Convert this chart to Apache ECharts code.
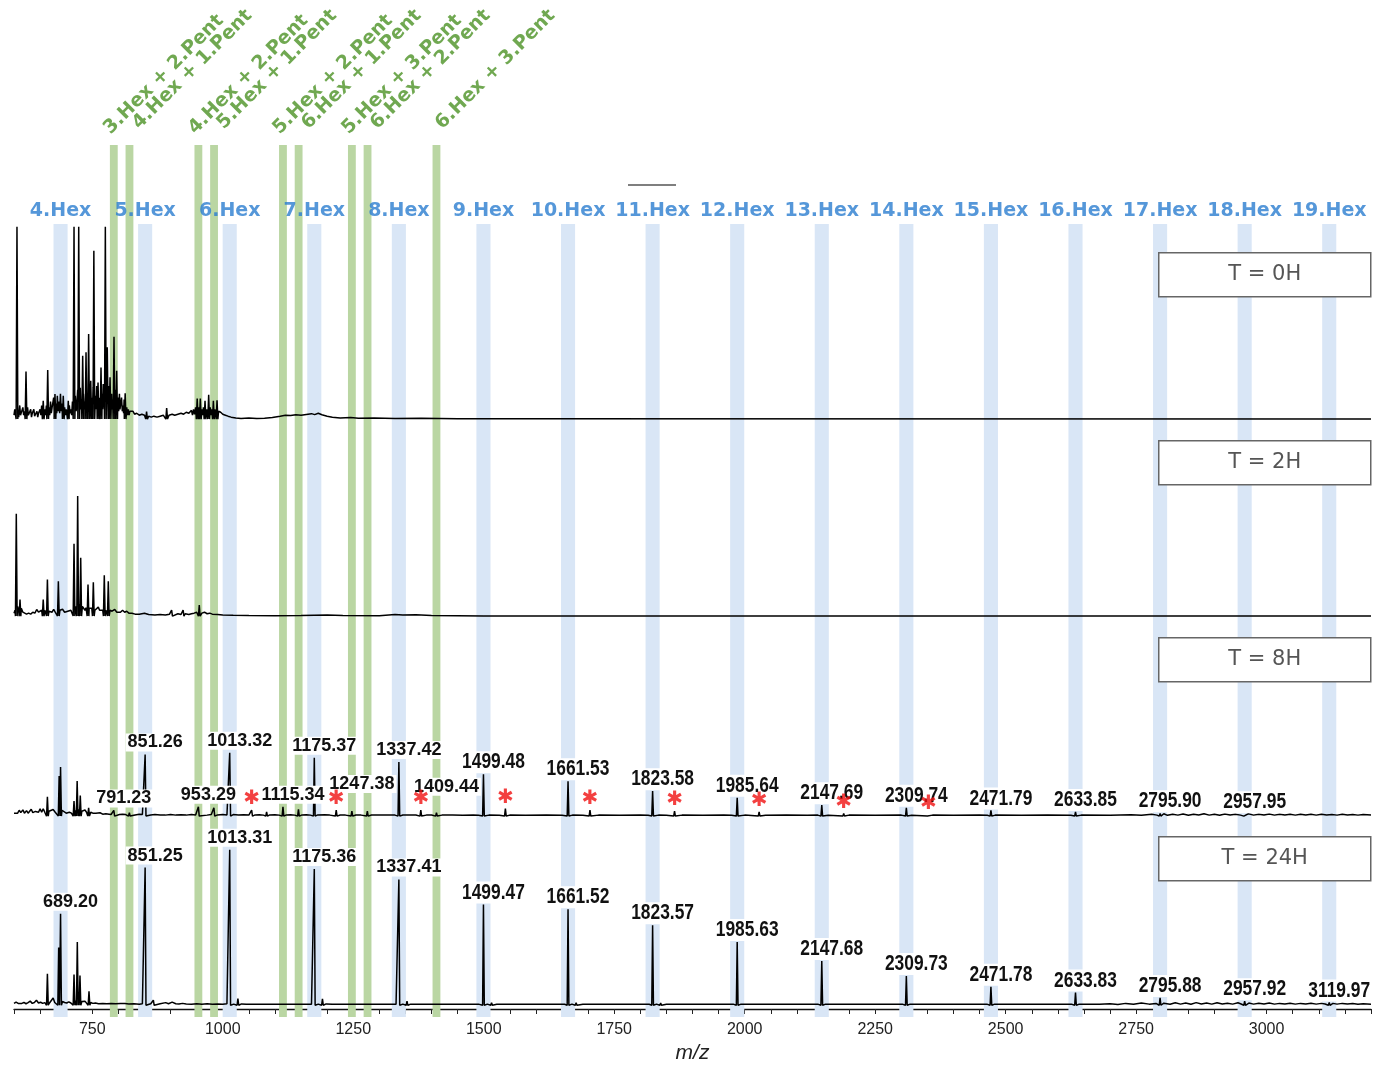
<!DOCTYPE html>
<html>
<head>
<meta charset="utf-8">
<script src="https://cdn.jsdelivr.net/npm/echarts@6/dist/echarts.min.js"></script>
<style>
  html, body { margin: 0; padding: 0; background: #fff; }
  #chart { width: 1375px; height: 1065px; }
</style>
</head>
<body>
<div id="chart"></div>
<script>
// ---------------- data ----------------
// hexose ladder (blue bands) and mixed hexose/pentose species (green bands), m/z
const hexNames = ['4.Hex', '5.Hex', '6.Hex', '7.Hex', '8.Hex', '9.Hex', '10.Hex', '11.Hex',
  '12.Hex', '13.Hex', '14.Hex', '15.Hex', '16.Hex', '17.Hex', '18.Hex', '19.Hex'];
const hexMz = [689.20, 851.25, 1013.31, 1175.36, 1337.41, 1499.47, 1661.52, 1823.57,
  1985.63, 2147.68, 2309.73, 2471.78, 2633.83, 2795.88, 2957.92, 3119.97];
const pentNames = ['3.Hex + 2.Pent', '4.Hex + 1.Pent', '4.Hex + 2.Pent', '5.Hex + 1.Pent',
  '5.Hex + 2.Pent', '6.Hex + 1.Pent', '5.Hex + 3.Pent', '6.Hex + 2.Pent', '6.Hex + 3.Pent'];
const pentMz = [791.23, 821.24, 953.29, 983.30, 1115.34, 1145.35, 1247.38, 1277.39, 1409.44];

const panelNames = ['T = 0H', 'T = 2H', 'T = 8H', 'T = 24H'];
const xTickLabels = [750, 1000, 1250, 1500, 1750, 2000, 2250, 2500, 2750, 3000];

// T = 0H : baseline trace [m/z, rel. intensity] and sharp peaks
const trace0H = [[600,2],[601.5,5],[603,2],[607.5,4],[609,1],[611,7],[612.5,2],[614,3],[617,6],[618.5,2],[620,4],
  [626,6],[627.5,2],[629,3],[632,5],[633.5,1],[635,3],[638,5],[639.5,1.5],[641,2],[644,4],[645.5,1],[647,3],
  [650,5],[651.5,2],[653,7],[659,5],[660.5,2],[662,7],[667,6],[668.5,2],[670,9],[671.5,3],[673,6],[676,11],
  [677,4],[681,8],[682,3],[683,12],[684.5,4],[686,9],[687.5,3],[689,13],[690.5,4],[692,8],[697,6],[698.5,2],
  [700,5],[701.5,2],[706,7],[707.5,3],[709,5],[710.5,2],[712,9],[713,3],[717.5,12],[719,4],[720.5,8],[722,15],
  [727,16],[728,5],[729.5,10],[733,13],[734.5,5],[736,9],[740,12],[741.5,5],[745,14],[746,6],[749,11],[750.5,5],
  [751.5,16],[756,12],[757,5],[758.5,17],[763,11],[764.5,4],[769,13],[770,5],[771,18],[772,6],[773,11],[781,17],
  [782,6],[787,13],[788,5],[789,10],[794,15],[795,6],[799,11],[800.5,4],[802,13],[803,5],[804.5,8],[806,11],
  [807.5,4],[809,7],[810,3],[811,10],[816,6],[817.5,2],[819,5],[820.5,2],[822,4],[825,3],[828,4],[831,2.5],
  [835,3],[840,2],[845,2.5],[850,2],[858,1.5],[863,1],[868,1.5],[874,1],[880,1.5],[886,2],[897,2],[903,2.5],
  [908,2],[914,2.5],[920,3],[925,2.5],[930,3.5],[935,3],[940,4.5],[942,2],[944,5],[946,2.5],[948,6],[954,6],
  [955.5,2],[960,5],[961.5,2],[963,6],[969,5],[970.5,2],[976,6],[977.5,2],[979,5],[985,5],[986.5,2],[992,4],
  [996,3.5],[1000,2.5],[1005,2],[1010,1.5],[1016,1],[1025,0.6],[1035,0.3],[1050,0.5],[1065,0.3],[1080,0.4],
  [1095,0.8],[1110,1.5],[1120,2],[1130,1.8],[1140,2.2],[1150,2],[1160,2.4],[1170,2.8],[1176,2.3],[1183,3],
  [1190,2.2],[1200,1.5],[1210,1],[1225,0.6],[1245,0.8],[1260,0.4],[1290,0.5],[1330,0.3],[1380,0.4],[1450,0.2],
  [1550,0.2],[3200,0]];
const peaks0H = [[605.7,98.6],[623,24.4],[656,9.4],[664.6,25.1],[678.5,12.8],[694.4,12],[704,9.4],[715,98.6],
  [724,98.6],[731.6,32.5],[738,34.2],[743,43.6],[747,19.7],[753,86.3],[761,18.8],[766.7,26.5],[775,98.6],
  [778.7,36.8],[784,21.4],[791.6,42.2],[796.7,24.8],[813,13.2],[854,3.9],[892.5,5.6],[951,10.6],[957,10.6],
  [966,9.4],[973,12.5],[982,9.4],[989,9.7]];

// T = 2H
const trace2H = [[600,1.5],[602,3],[607,5],[609,3],[614,4],[617,2],[620,1.5],[624,1],[628,1.5],[632,1],[636,2],
  [640,1.5],[643.5,3.4],[647,2],[650,1.5],[653,3],[659,3],[661,4],[667,2.5],[670,3],[673,2],[676,3.5],[679,2],
  [682,3],[688,3],[690,2],[693,3.5],[697,2],[700,3],[703,2.5],[706,3.5],[709,3],[712,4],[718,5],[725,6],[731,5],
  [734,4.3],[736,3],[738,4.3],[744,4],[747,3],[749,4],[755,3],[758,3.5],[761.5,4.6],[764,3],[767,2.5],[770,3],
  [776,3],[784,3],[788,2.5],[793,3.4],[797,2],[800,2.5],[804,2],[808,3],[812,2],[816,2.5],[820,1.5],[826,1.5],
  [832,1],[840,1],[850,1.5],[858,0.8],[870,0.6],[880,0.8],[890,0.6],[898,1],[906,0.8],[914,1.2],[920,0.8],
  [928,1.2],[935,0.8],[940,1.2],[945,1.5],[950,2],[960,1.5],[965,2],[970,1.2],[975,1.5],[980,1],[990,0.8],
  [1000,0.6],[1020,0.4],[1050,0.3],[1100,0.2],[1150,0.3],[1200,0.5],[1230,0.3],[1300,0.2],[1330,0.8],[1345,0.6],
  [1370,0.7],[1400,0.3],[1500,0.1],[3200,0]];
const peaks2H = [[604.4,52.5],[611.5,8.5],[656,8.5],[664,18.8],[685,17.9],[715,37.1],[722,61.5],[727.8,29.9],
  [741.8,16.2],[752,17.4],[773,20.9],[780.7,17.9],[902,3.1],[924,3.1],[955,5.6]];

// T = 8H
const trace8H = [[600,1.5],[603,2.5],[607,1.5],[610,3],[613,1.8],[617,3.2],[620,1.5],[624,2.8],[627,1.5],[630,2],
  [633,3.5],[636,1.8],[641,2.4],[644,1.5],[647,2],[650,3.8],[653,2],[656,3.8],[659,2],[667,2.5],[670,2],[675,3.4],
  [679,2],[682,3],[692,3],[695,2],[700,1.5],[706,2],[710,1.5],[718,3],[724,3.5],[730,2.5],[733,2],[736,3.1],
  [739,2],[747,2],[751,1.5],[757,1.5],[764.8,1.7],[770,1],[776,1.2],[782,1],[786,0.8],[796,1],[802,0.8],[808,1],
  [814,0.8],[826,0.8],[832,0.6],[840,1],[846,0.8],[856,1],[862,0.6],[870,0.8],[880,0.6],[890,0.5],[900,0.8],
  [910,0.5],[920,0.7],[930,0.5],[940,0.8],[948,0.6],[958,0.7],[970,0.5],[978,0.8],[990,0.6],[1000,0.8],[1008,0.6],
  [1020,0.8],[1030,0.6],[1040,0.7],[1050,0.5],[1062,0.6],[1070,0.7],[1078,0.5],[1090,0.6],[1100,0.7],[1108,0.5],
  [1122,0.6],[1130,0.7],[1138,0.5],[1152,0.6],[1160,0.7],[1168,0.5],[1182,0.6],[1195,0.7],[1205,0.5],[1225,0.6],
  [1235,0.5],[1255,0.6],[1265,0.5],[1285,0.6],[1300,0.5],[1320,0.6],[1330,0.5],[1345,0.6],[1360,0.5],[1370,0.6],
  [1390,0.5],[1400,0.6],[1420,0.5],[1440,0.6],[1460,0.4],[1480,0.5],[1490,0.4],[1510,0.5],[1530,0.4],[1550,0.5],
  [1580,0.4],[1620,0.5],[1650,0.4],[1670,0.5],[1690,0.4],[1720,0.5],[1760,0.4],[1800,0.5],[1815,0.4],[1835,0.5],
  [1850,0.4],[1880,0.5],[1920,0.4],[1960,0.5],[1975,0.4],[2000,0.5],[2040,0.4],[2080,0.5],[2120,0.4],[2140,0.5],
  [2160,0.4],[2200,0.5],[2250,0.4],[2300,0.5],[2320,0.4],[2360,0.5],[2400,0.4],[2450,0.5],[2465,0.4],[2480,0.5],
  [2530,0.4],[2580,0.5],[2625,0.4],[2645,0.5],[2700,0.4],[2740,0.7],[2760,0.4],[2780,0.9],[2790,0.5],[2803,1.2],
  [2810,0.4],[2820,1],[2830,0.5],[2840,1.1],[2850,0.4],[2860,1],[2870,0.6],[2880,1.2],[2890,0.5],[2900,1],
  [2910,0.4],[2920,1.1],[2930,0.6],[2940,1],[2950,0.5],[2965,1.2],[2975,0.5],[2985,1],[2995,0.6],[3005,1.1],
  [3015,0.5],[3025,1],[3035,0.6],[3045,0.9],[3055,0.5],[3065,1],[3075,0.6],[3085,0.9],[3095,0.5],[3105,1],
  [3115,0.6],[3125,0.8],[3135,0.5],[3145,0.9],[3155,0.6],[3165,0.8],[3175,0.5],[3185,0.8],[3200,0.5]];
const peaks8H = [[664,9.9],[686.5,20.5],[689.2,25.1],[715,7.7],[721,18],[727,10.6],[743,4.3],[821,1.7],
  [983,4.3],[1084,2.2],[1145,3.4],[1277,2.6]];
const labelled8H = [[791.23,2.9],[851.26,31.6],[953.29,4.8],[1013.32,32.5],[1115.34,4.8],[1175.37,29.9],
  [1247.38,2.6],[1337.42,27.7],[1409.44,1.7],[1499.48,21.4],[1661.53,17.9],[1823.58,12.8],[1985.64,9.4],
  [2147.69,5.6],[2309.74,4.3],[2471.79,2.9],[2633.85,2.1],[2795.90,1.4],[2957.95,0.9]];
const starred8H = [[1055.33,3.1],[1217.38,3.1],[1379.43,3.1],[1541.49,3.8],[1703.54,3.1],[1865.59,2.6],
  [2027.65,2.1],[2189.70,1.4],[2351.75,0.9]];

// T = 24H
const trace24H = [[600,1],[604,1.7],[608,1],[611,1.8],[615,1],[619,1.5],[623,0.8],[627,1.4],[631,2.2],[635,1],
  [639,1.5],[643,2.7],[647,1.2],[651,1.6],[655,1],[659,1.4],[668,1.2],[671,2],[675,3.9],[678,1.5],[681,2.5],
  [693,2],[697,1.5],[701,1.2],[705,1.8],[709,1.2],[712,2],[718,2.5],[724,3],[730,2],[733,1.5],[736,2.2],[739,1.5],
  [747,1.5],[751,1],[756,1.2],[762,0.8],[770,1],[778,0.8],[786,1],[795,0.8],[804,1],[812.6,0.9],[820,0.7],
  [830,0.8],[840,0.6],[846,0.8],[856,0.7],[862,0.8],[872,0.6],[880,0.8],[890.6,1.4],[896,0.8],[903,1.7],[910,0.8],
  [916,0.7],[923,1],[930,0.7],[940,0.6],[950,0.8],[960,0.6],[970,0.8],[980,0.6],[990,0.7],[1000,0.6],[1008,0.8],
  [1021,0.6],[1036,0.7],[1045,0.5],[1060,0.6],[1080,0.5],[1100,0.6],[1120,0.5],[1140,0.6],[1160,0.5],[1170,0.6],
  [1183,0.6],[1198,0.7],[1210,0.5],[1230,0.6],[1260,0.5],[1290,0.6],[1320,0.5],[1332,0.6],[1345,0.6],[1360,0.6],
  [1380,0.5],[1420,0.6],[1460,0.5],[1490,0.6],[1507,0.6],[1525,0.5],[1560,0.6],[1600,0.5],[1640,0.6],[1655,0.5],
  [1669,0.6],[1690,0.5],[1730,0.6],[1770,0.5],[1800,0.6],[1817,0.5],[1831,0.6],[1850,0.5],[1890,0.6],[1930,0.5],
  [1978,0.6],[1993,0.6],[2010,0.5],[2050,0.6],[2100,0.5],[2140,0.6],[2155,0.6],[2180,0.5],[2230,0.6],[2280,0.5],
  [2302,0.6],[2317,0.6],[2350,0.5],[2400,0.6],[2440,0.5],[2464,0.6],[2479,0.6],[2520,0.5],[2570,0.6],[2610,0.5],
  [2626,0.6],[2641,0.6],[2680,0.5],[2700,0.8],[2715,0.4],[2730,1],[2745,0.5],[2760,1.2],[2775,0.6],[2788,1],
  [2803,1.1],[2815,0.5],[2825,1.3],[2835,0.6],[2845,1.2],[2855,0.5],[2865,1.4],[2875,0.7],[2885,1.2],[2895,0.6],
  [2905,1.3],[2915,0.7],[2925,1.1],[2935,0.6],[2945,1.3],[2950,0.8],[2966,1.2],[2975,0.6],[2985,1.1],[2995,0.7],
  [3005,1.2],[3015,0.6],[3025,1],[3035,0.7],[3045,1.1],[3055,0.6],[3065,1],[3075,0.7],[3085,1.1],[3095,0.6],
  [3105,1],[3112,0.7],[3127,1],[3135,0.6],[3145,1],[3155,0.7],[3165,0.9],[3175,0.6],[3185,0.8],[3200,0.6]];
const peaks24H = [[664,16.8],[685.6,30.8],[715,16.4],[721.3,33.8],[726.4,15.9],[743.7,7.4],[867,2.7],
  [1029,3.6],[1191,3.4],[1353,2.2],[1515,1.4],[1677,1.4],[1839,1.2]];
const labelled24H = [[689.20,48.9],[851.25,73.5],[1013.31,83.1],[1175.36,72.8],[1337.41,67.2],[1499.47,53.8],
  [1661.52,51.3],[1823.57,42.7],[1985.63,33.8],[2147.68,23.6],[2309.73,15.6],[2471.78,9.9],[2633.83,6.8],
  [2795.88,3.9],[2957.92,2.2],[3119.97,1.5]];

// ---------------- layout & style ----------------
const X_MIN = 600, X_MAX = 3200;
const GRID_LEFT = 14, GRID_RIGHT = 4;
const PANEL_TOPS = [224, 421, 621, 818];
const PANEL_H = 199;
const BOX_TOPS = [252, 440, 637, 836];
const HALF_WIDTH = 1.6;          // half width of a drawn peak, m/z
const BLUE_W = 27, GREEN_W = 15; // band widths, m/z
const BLUE_BAND = '#d9e6f6', GREEN_BAND = '#bad6a3';
const BLUE_TEXT = '#2a7dcf', GREEN_TEXT = '#4c9226';
const WIDE_FONT = '"Liberation Sans", Arial, sans-serif';
const NARROW_FROM = 1450;        // captions from this m/z on use the condensed face
const NARROW_SCALE = 0.79;
const LABEL_LIFT = { '1247.38': 15, '1409.44': 14 };
// screen displacement of each rotated green caption from its band top (px)
const GREEN_SHIFT = [[0, -7], [13, -12], [0, -7], [13, -12], [0, -7], [13, -12], [0, -7], [13, -12], [9, -12]];
const GREEN_ROT = 45;

// merge the baseline trace with the peaks into one polyline
function spectrumLine(trace, ...peakLists) {
  const units = trace.map(p => ({ x: p[0], pts: [p] }));
  peakLists.forEach(list => list.forEach(p => {
    units.push({ x: p[0], pts: [[p[0] - HALF_WIDTH, 0], p, [p[0] + HALF_WIDTH, 0]] });
  }));
  units.sort((a, b) => a.x - b.x);
  return units.flatMap(u => u.pts);
}

// label offsets are applied in the rotated frame; turn a screen shift into that frame
function toRotatedFrame(s) {
  const r = GREEN_ROT * Math.PI / 180;
  return [s[0] * Math.cos(r) - s[1] * Math.sin(r), s[0] * Math.sin(r) + s[1] * Math.cos(r)];
}

const grids = [
  { left: GRID_LEFT, right: GRID_RIGHT, top: 145, height: 872 },  // green bands
  { left: GRID_LEFT, right: GRID_RIGHT, top: 224, height: 793 },  // blue bands
].concat(PANEL_TOPS.map(t => ({ left: GRID_LEFT, right: GRID_RIGHT, top: t, height: PANEL_H })));

const xAxes = grids.map((g, i) => {
  const bottom = i === grids.length - 1;
  return {
    type: 'value', gridIndex: i, min: X_MIN, max: X_MAX, interval: 50,
    show: bottom,
    splitLine: { show: false },
    axisLine: { show: bottom, onZero: false, lineStyle: { color: '#111', width: 1.3 } },
    axisTick: { show: bottom, length: 5, lineStyle: { color: '#222', width: 1 } },
    axisLabel: {
      show: bottom, margin: 13, color: '#222', fontSize: 16, fontFamily: WIDE_FONT,
      formatter: v => (xTickLabels.indexOf(v) >= 0 ? String(v) : '')
    },
    name: bottom ? 'm/z' : '',
    nameLocation: 'middle', nameGap: 34,
    nameTextStyle: { fontStyle: 'italic', fontSize: 21, color: '#222', fontFamily: WIDE_FONT }
  };
});
const yAxes = grids.map((g, i) => ({
  type: 'value', gridIndex: i, show: false,
  min: i < 2 ? 0 : -2, max: i < 2 ? 1 : 100
}));

const series = [];

// blue hexose bands with their captions
series.push({
  type: 'scatter', xAxisIndex: 1, yAxisIndex: 1, symbolSize: 0, clip: false, z: 2, silent: true,
  data: hexMz.map((m, i) => ({ value: [m, 1], name: hexNames[i] })),
  label: {
    show: true, position: 'top', distance: 3, formatter: d => d.name,
    color: BLUE_TEXT, fontFamily: '"DejaVu Sans", sans-serif', fontWeight: 'bold', fontSize: 19
  },
  markArea: {
    silent: true, itemStyle: { color: BLUE_BAND },
    data: hexMz.map(m => [{ xAxis: m - BLUE_W / 2 }, { xAxis: m + BLUE_W / 2 }])
  }
});

// green hexose + pentose bands with rotated captions
series.push({
  type: 'scatter', xAxisIndex: 0, yAxisIndex: 0, symbolSize: 0, clip: false, z: 3, silent: true,
  data: pentMz.map((m, i) => ({
    value: [m, 1], name: pentNames[i],
    label: { offset: toRotatedFrame(GREEN_SHIFT[i]) }
  })),
  label: {
    show: true, position: [0, 0], rotate: GREEN_ROT, align: 'left', verticalAlign: 'bottom',
    formatter: d => d.name,
    color: GREEN_TEXT, fontFamily: '"DejaVu Sans", sans-serif', fontWeight: 'bold', fontSize: 19
  },
  markArea: {
    silent: true, itemStyle: { color: GREEN_BAND },
    data: pentMz.map(m => [{ xAxis: m - GREEN_W / 2 }, { xAxis: m + GREEN_W / 2 }])
  }
});

// spectra
const spectra = [
  spectrumLine(trace0H, peaks0H),
  spectrumLine(trace2H, peaks2H),
  spectrumLine(trace8H, peaks8H, labelled8H, starred8H),
  spectrumLine(trace24H, peaks24H, labelled24H)
];
spectra.forEach((data, k) => {
  series.push({
    type: 'line', xAxisIndex: k + 2, yAxisIndex: k + 2, data,
    showSymbol: false, symbol: 'none', silent: true, z: 5,
    lineStyle: { color: '#000', width: 1.5 }
  });
});

// m/z captions over the labelled peaks
function peakLabels(list, axis) {
  return {
    type: 'custom', xAxisIndex: axis, yAxisIndex: axis, z: 6, silent: true, clip: false,
    data: list,
    renderItem: (params, api) => {
      const mz = api.value(0), h = api.value(1);
      const pt = api.coord([mz, h]);
      const narrow = mz >= NARROW_FROM;
      const lift = LABEL_LIFT[mz.toFixed(2)] || 0;
      return {
        type: 'text',
        x: pt[0] + 10, y: pt[1] - (narrow ? 1 : 3) - lift,
        scaleX: narrow ? NARROW_SCALE : 1,
        style: {
          text: mz.toFixed(2), align: 'center', verticalAlign: 'bottom',
          font: 'bold ' + (narrow ? 22 : 18) + 'px ' + WIDE_FONT,
          fill: '#111', backgroundColor: '#fff', padding: [0, 2]
        }
      };
    }
  };
}
series.push(peakLabels(labelled8H, 4));
series.push(peakLabels(labelled24H, 5));

// asterisks over the marked T = 8H peaks
series.push({
  type: 'scatter', xAxisIndex: 4, yAxisIndex: 4, symbolSize: 0, clip: false, z: 6, silent: true,
  data: starred8H,
  label: {
    show: true, position: 'top', distance: 1, formatter: '\u2731',
    color: '#f01010', fontSize: 20, fontFamily: '"DejaVu Sans", sans-serif'
  }
});

const graphic = panelNames.map((t, i) => ({
  type: 'group', left: 1158, top: BOX_TOPS[i], z: 100,
  children: [
    { type: 'rect', z: 100, shape: { x: 0, y: 0, width: 212, height: 44 },
      style: { fill: '#fff', stroke: '#666', lineWidth: 1.5 } },
    { type: 'text', z: 101, x: 106, y: 22,
      style: { text: t, align: 'center', verticalAlign: 'middle',
        font: '21px "DejaVu Sans", sans-serif', fill: '#555' } }
  ]
}));
graphic.push({
  type: 'line', z: 100,
  shape: { x1: 628, y1: 185, x2: 676, y2: 185 },
  style: { stroke: '#555', lineWidth: 1.5 }
});

const chart = echarts.init(document.getElementById('chart'), null, { renderer: 'canvas' });
chart.setOption({
  animation: false,
  backgroundColor: '#fff',
  grid: grids,
  xAxis: xAxes,
  yAxis: yAxes,
  series,
  graphic
});
</script>
</body>
</html>
